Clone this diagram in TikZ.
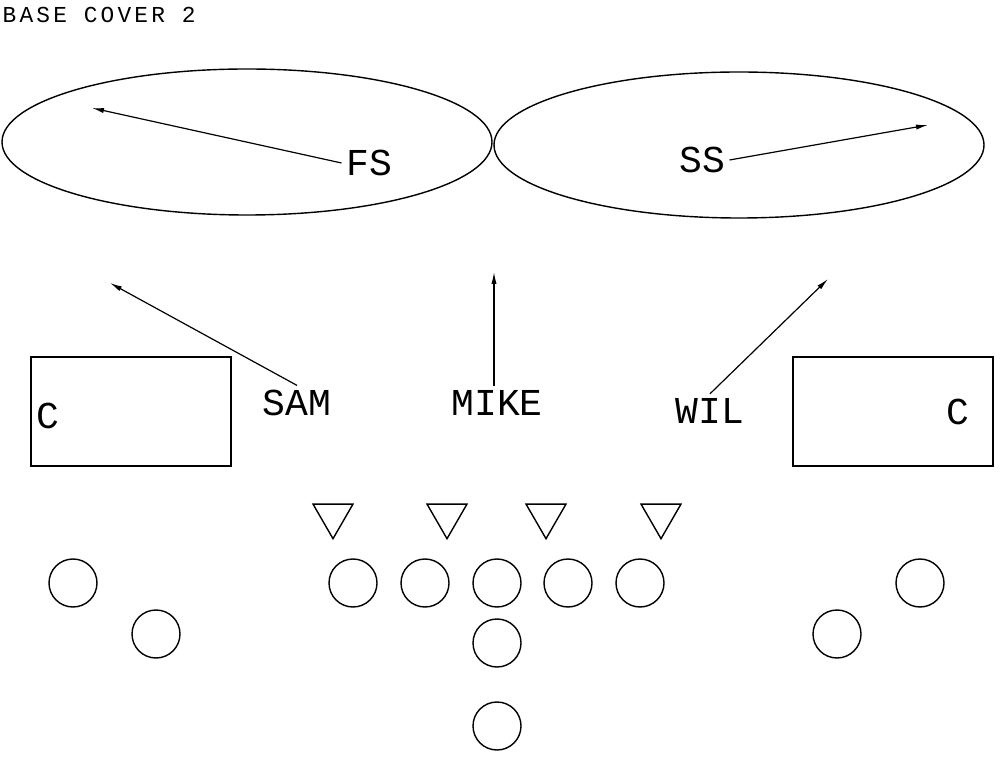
\documentclass[tikz,border=0pt]{standalone}
\usepackage{fontspec}
\setmonofont{Liberation Mono}
\usetikzlibrary{shapes.geometric,arrows.meta}
\newcommand{\px}{0.5pt}

\begin{document}
\begin{tikzpicture}[x=\px, y=-\px, line width=0.7pt,
    zone/.style={draw, ellipse, minimum width=245pt, minimum height=73pt, inner sep=0pt},
    player/.style={draw, circle, minimum size=24pt, inner sep=0pt},
    lineman/.style={draw, regular polygon, regular polygon sides=3, shape border rotate=180, minimum size=23.1pt, inner sep=0pt},
    cbox/.style={draw, rectangle, minimum width=100pt, minimum height=54.5pt, inner sep=0pt},
    lbl/.style={font=\ttfamily\fontsize{19}{19}\selectfont, inner sep=2pt},
    route/.style={-{Latex[length=6pt,width=2.6pt]}, line width=0.6pt}]
    \useasboundingbox (0,0) rectangle (1000,758);

    % Title
    \node[anchor=west, inner sep=0pt, font=\ttfamily\fontsize{11.4}{12}\selectfont\addfontfeatures{LetterSpace=14}] (title) at (2,14.5) {BASE COVER 2};

    % Deep zones
    \node[zone] (fszone) at (247,142) {};
    \node[zone] (sszone) at (739,145) {};
    \node[lbl] (fs) at (369,163) {FS};
    \node[lbl] (ss) at (702,160) {SS};
    \coordinate (fsdrop) at (92,108);
    \coordinate (ssdrop) at (928,125);
    \draw[route] (fs.west) -- (fsdrop);
    \draw[route] (ss.east) -- (ssdrop);

    % Linebackers
    \node[lbl] (sam) at (297,403) {SAM};
    \node[lbl] (mike) at (497,403) {MIKE};
    \node[lbl] (wil) at (710,411) {WIL};
    \coordinate (samdrop) at (110,283);
    \coordinate (mikedrop) at (494,272);
    \coordinate (wildrop) at (828,279);
    \draw[route] (sam.north) -- (samdrop);
    \draw[route] (mike.north -| mikedrop) -- (mikedrop);
    \draw[route] (wil.north) -- (wildrop);

    % Corners
    \node[cbox] (lcbox) at (131,411.5) {};
    \node[cbox] (rcbox) at (893,411.5) {};
    \node[lbl] (lc) at (48,416) {C};
    \node[lbl] (rc) at (958,412) {C};

    % Front four
    \node[lineman] (de-1) at (333,515.6) {};
    \node[lineman] (dt-1) at (447,515.6) {};
    \node[lineman] (dt-2) at (546,515.6) {};
    \node[lineman] (de-2) at (661,515.6) {};

    % Offense
    \node[player] (wr-1) at (73,583) {};
    \node[player] (lt) at (353,583) {};
    \node[player] (lg) at (425,583) {};
    \node[player] (ctr) at (497,583) {};
    \node[player] (rg) at (568,583) {};
    \node[player] (rt) at (640,583) {};
    \node[player] (wr-2) at (920,583) {};

    \node[player] (slot-1) at (156,634) {};
    \node[player] (slot-2) at (837,634) {};
    \node[player] (qb) at (497,643) {};
    \node[player] (rb) at (497,726) {};

\end{tikzpicture}
\end{document}
